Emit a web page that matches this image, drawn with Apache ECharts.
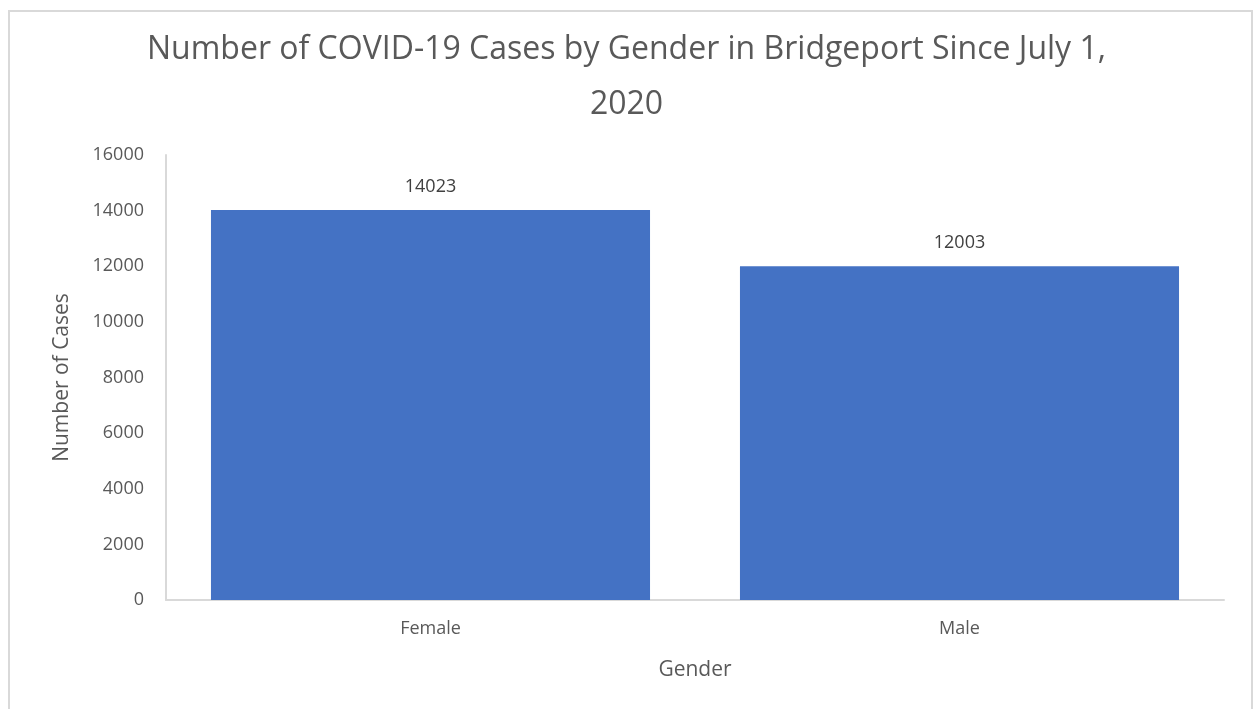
<!DOCTYPE html>
<html>
<head>
<meta charset="utf-8">
<script src="https://cdn.jsdelivr.net/npm/echarts@6/dist/echarts.min.js"></script>
<style>
	html, body { margin: 0; padding: 0; background: #fff; }
	#genderChart { width: 1253px; height: 709px; }
</style>
</head>
<body>
<div id="genderChart"></div>
<script>
	const categories = ['Female', 'Male']
	const cases = [14023, 12003]
	const yTicks = [0, 2000, 4000, 6000, 8000, 10000, 12000, 14000, 16000]

	const myChart = echarts.init(document.getElementById('genderChart'))
	const font = 'Open Sans'
	const option = {
		textStyle: { fontFamily: font, color: '#595959' },
		graphic: [{
			type: 'rect',
			shape: { x: 9, y: 11, width: 1243, height: 710 },
			style: { fill: 'none', stroke: '#d9d9d9', lineWidth: 2 }
		}],
		title: {
			text: 'Number of COVID-19 Cases by Gender in Bridgeport Since July 1,\n2020',
			left: 'center',
			top: 17,
			textStyle: {
				fontFamily: font,
				fontSize: 32,
				fontWeight: 'normal',
				color: '#595959',
				lineHeight: 55
			}
		},
		grid: {
			left: 166,
			right: 29,
			top: 155,
			bottom: 109
		},
		xAxis: {
			type: 'category',
			data: categories,
			name: 'Gender',
			nameLocation: 'middle',
			nameGap: 60,
			nameTextStyle: { fontSize: 21, color: '#595959', fontFamily: font },
			axisLine: { lineStyle: { color: '#d9d9d9', width: 2 } },
			axisTick: { show: false },
			axisLabel: { fontSize: 18, color: '#595959', margin: 20 }
		},
		yAxis: {
			type: 'value',
			min: yTicks[0],
			max: yTicks[yTicks.length - 1],
			interval: 2000,
			name: 'Number of Cases',
			nameLocation: 'middle',
			nameGap: 93,
			nameTextStyle: { fontSize: 21, color: '#595959', fontFamily: font },
			axisLine: { show: true, lineStyle: { color: '#d9d9d9', width: 2 } },
			axisTick: { show: false },
			splitLine: { show: false },
			axisLabel: {
				fontSize: 18,
				color: '#595959',
				margin: 22,
				formatter: v => String(v)
			}
		},
		series: [{
			type: 'bar',
			data: cases,
			barCategoryGap: '17%',
			itemStyle: { color: '#4472C4' },
			label: {
				show: true,
				position: 'top',
				distance: 14,
				fontSize: 18,
				color: '#404040',
				fontFamily: font
			}
		}]
	}
	myChart.setOption(option)
</script>
</body>
</html>
